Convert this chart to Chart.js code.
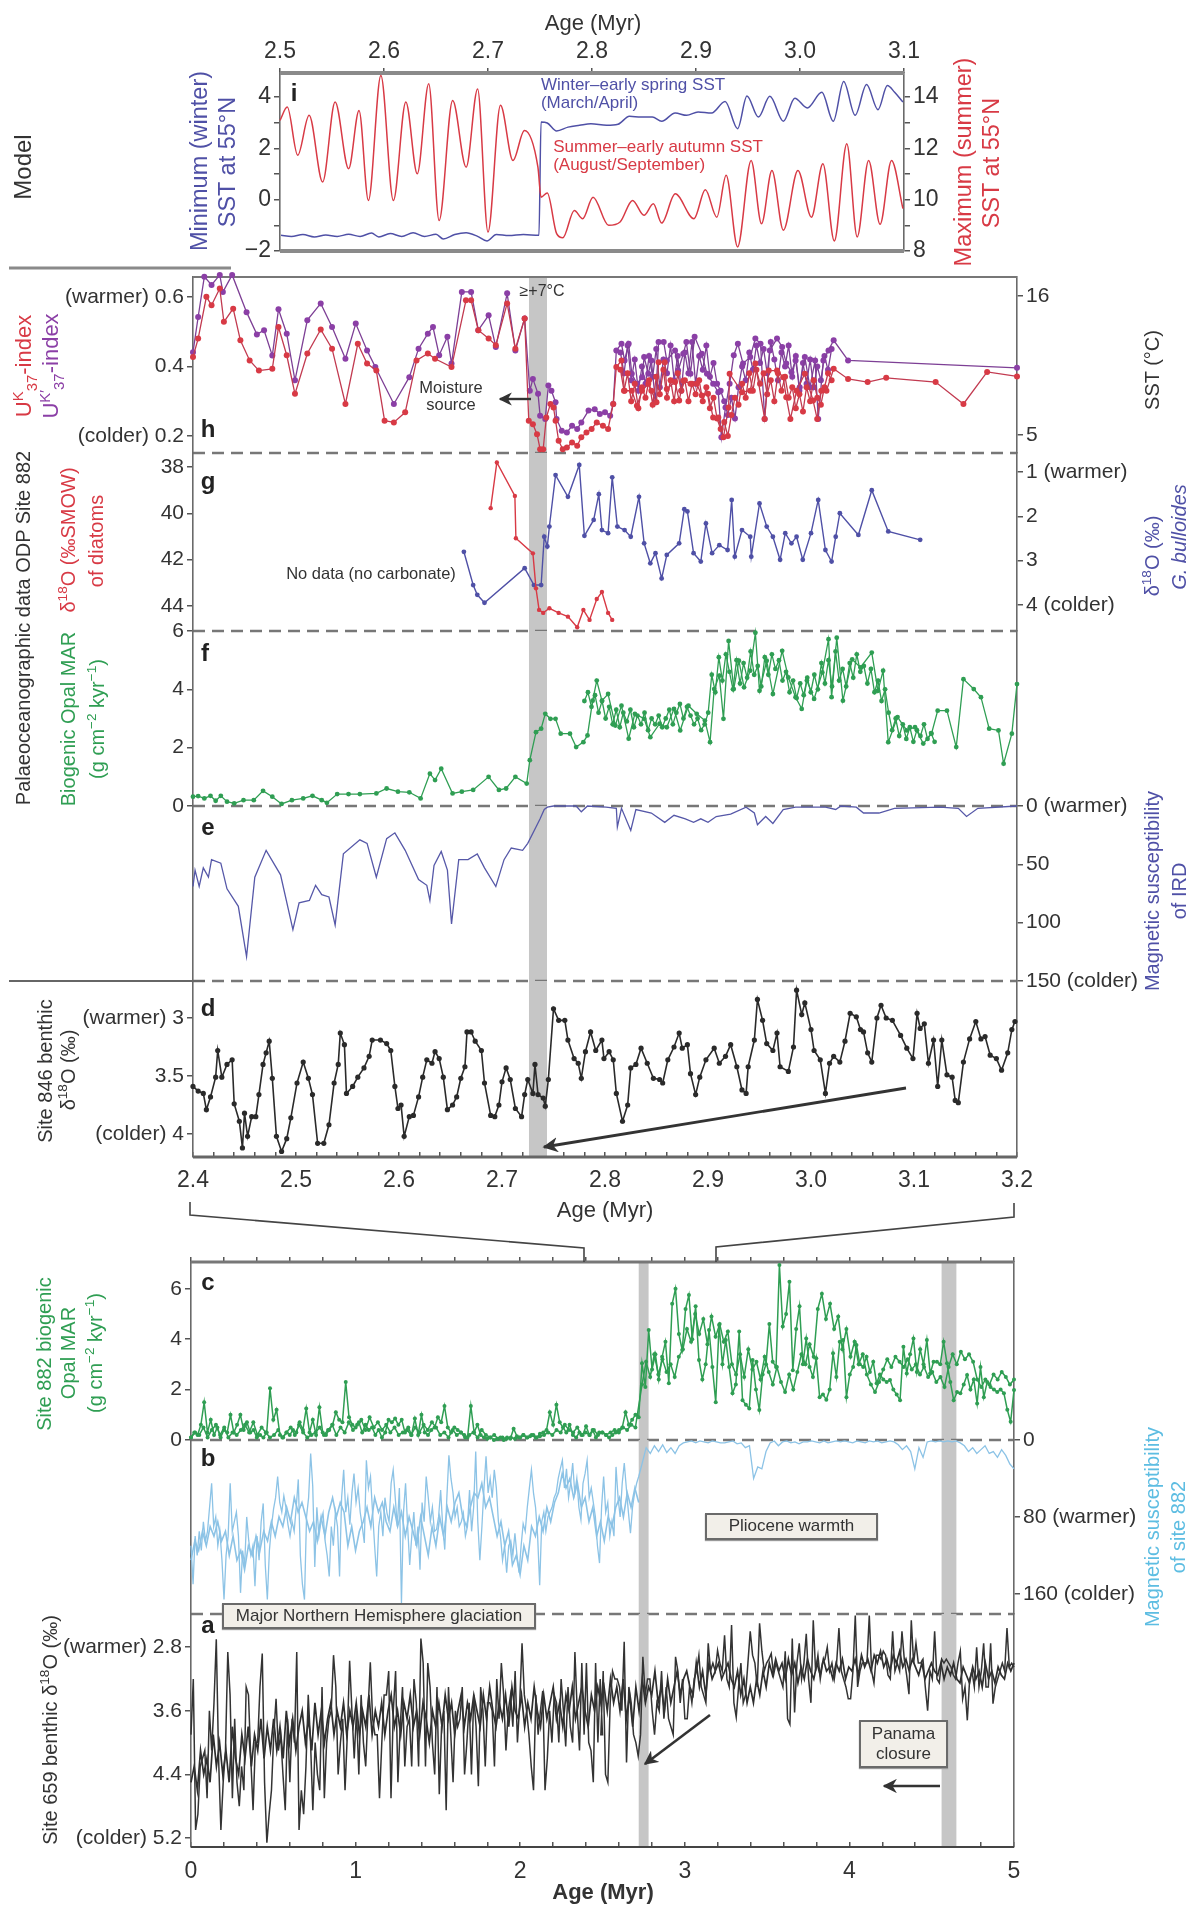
<!DOCTYPE html>
<html>
<head>
<meta charset="utf-8">
<title>Age records</title>
<script src="https://cdn.jsdelivr.net/npm/chart.js@4/dist/chart.umd.js"></script>
<style>
  html, body { margin: 0; padding: 0; background: #fff; }
  #page { position: relative; width: 1186px; height: 1906px; overflow: hidden; font-family: "Liberation Sans", Arial, sans-serif; color: #333; }
  #page canvas { position: absolute; left: 0; }
  #marks { position: absolute; left: 0; top: 0; }
  .note { position: absolute; white-space: nowrap; line-height: 1.05; text-align: center; }
  .box { position: absolute; box-sizing: border-box; background: #f2efe9; border: 2px solid #6a6a6a; box-shadow: 0 1px 1px #999; display: flex; align-items: center; justify-content: center; text-align: center; font-size: 17px; line-height: 1.2; color: #333; }
  sup, sub { font-size: .68em; line-height: 0; }
</style>
</head>
<body>
<div id="page"></div>
<script>
// panel i : model SST
const iSummerAge = [2.5,2.507,2.517,2.528,2.541,2.553,2.566,2.576,2.585,2.597,2.609,2.621,2.632,2.643,2.653,2.666,2.679,2.69,2.7,2.712,2.724,2.735,2.748,2.751,2.757,2.766,2.772,2.783,2.791,2.801,2.816,2.827,2.839,2.85,2.859,2.867,2.88,2.898,2.909,2.92,2.929,2.94,2.953,2.963,2.973,2.984,2.998,3.011,3.022,3.033,3.045,3.055,3.066,3.077,3.088,3.099];
const iSummer = [13.09,13.61,11.73,13.29,10.69,13.81,11.21,13.48,9.97,14.84,9.97,13.81,11.01,14.52,9.19,13.87,11.27,14.32,8.74,13.68,11.53,12.7,11.27,10.1,10.26,8.68,8.52,9.58,9.26,10.1,9,9.13,9.97,9.39,9.84,9.09,10.23,9.26,10.39,9.32,10.95,8.16,11.53,9.06,11.14,8.81,11.14,9.32,11.4,8.39,12.18,8.55,11.53,9.04,11.53,9.65];
const iWinterAge = [2.501,2.511,2.522,2.533,2.544,2.555,2.566,2.577,2.588,2.595,2.606,2.617,2.628,2.639,2.65,2.657,2.668,2.679,2.69,2.699,2.708,2.72,2.734,2.749,2.751,2.757,2.766,2.777,2.788,2.799,2.814,2.825,2.836,2.847,2.858,2.867,2.88,2.891,2.902,2.915,2.928,2.94,2.949,2.96,2.971,2.984,2.995,3.007,3.021,3.032,3.042,3.053,3.064,3.075,3.084,3.091,3.099];
const iWinter = [-1.39,-1.43,-1.36,-1.45,-1.38,-1.43,-1.35,-1.43,-1.3,-1.45,-1.32,-1.43,-1.29,-1.43,-1.35,-1.53,-1.36,-1.29,-1.43,-1.61,-1.36,-1.4,-1.36,-1.39,3.03,2.99,2.68,2.83,2.9,2.96,2.9,2.94,3.25,3.22,3.22,3.06,3.38,3.29,3.42,3.38,3.83,2.77,4.04,3.22,4.03,3.06,3.96,3.58,4.19,3.06,4.61,3.29,4.49,3.51,4.45,4.19,3.81];

// panel h : alkenone index
const hPurpleAge = [2.4,2.405,2.411,2.418,2.426,2.429,2.438,2.452,2.462,2.469,2.477,2.483,2.491,2.499,2.511,2.524,2.535,2.548,2.558,2.569,2.577,2.595,2.61,2.619,2.628,2.633,2.639,2.647,2.651,2.661,2.67,2.677,2.687,2.694,2.705,2.713,2.722,2.727,2.73,2.735,2.737,2.742,2.745,2.748,2.752,2.753,2.758,2.763,2.768,2.773,2.777,2.784,2.79,2.795,2.8,2.805,2.808,2.811,2.816,2.819,2.823,2.826,2.831,2.836,2.838,2.842,2.845,2.849,2.852,2.857,2.86,2.868,2.871,2.876,2.879,2.883,2.887,2.894,2.899,2.905,2.91,2.913,2.917,2.921,2.925,2.929,2.934,2.941,2.946,2.951,2.955,2.96,2.967,2.972,2.976,2.981,2.985,2.989,2.994,2.999,3.004,3.007,3.012,3.017,3.022,3.036,3.2];
const hPurple = [.441,.542,.658,.634,.663,.614,.663,.556,.492,.504,.431,.564,.494,.36,.533,.581,.513,.422,.523,.446,.398,.292,.369,.451,.494,.513,.432,.485,.408,.614,.614,.504,.547,.456,.61,.446,.538,.33,.364,.321,.258,.249,.345,.33,.297,.249,.215,.21,.229,.22,.239,.273,.277,.263,.268,.258,.292,.446,.465,.417,.465,.379,.35,.369,.427,.379,.417,.297,.47,.47,.417,.446,.388,.436,.47,.379,.485,.436,.379,.35,.326,.196,.282,.35,.432,.465,.408,.427,.48,.465,.249,.446,.48,.456,.408,.383,.417,.34,.427,.34,.417,.249,.417,.446,.475,.417,.396];
const hPurpleDense = [.44,.38,.46,.36,.42,.33,.4,.35,.43,.37,.45,.34,.42,.38,.46,.36,.43,.33,.44,.38,.47,.35,.43,.39,.46,.37,.41,.35,.33,.3,.26,.31,.25,.34,.4,.36,.44,.39,.46,.41,.45,.38,.47,.42,.36,.44,.4,.46,.37,.43,.33,.41,.35,.42,.34,.4,.36,.43,.39,.45];
const hRedAge = [2.4,2.405,2.413,2.418,2.426,2.43,2.439,2.446,2.455,2.464,2.477,2.483,2.491,2.499,2.511,2.524,2.535,2.548,2.56,2.569,2.578,2.586,2.595,2.606,2.617,2.628,2.635,2.651,2.665,2.67,2.677,2.687,2.694,2.705,2.713,2.722,2.726,2.73,2.734,2.737,2.74,2.743,2.747,2.75,2.752,2.755,2.759,2.763,2.768,2.773,2.777,2.782,2.787,2.792,2.798,2.803,2.808,2.811,2.816,2.819,2.826,2.831,2.836,2.842,2.845,2.85,2.852,2.858,2.86,2.868,2.872,2.876,2.883,2.889,2.894,2.9,2.905,2.91,2.915,2.92,2.921,2.933,2.941,2.946,2.955,2.959,2.967,2.973,2.976,2.98,2.986,2.994,3.002,3.006,3.01,3.015,3.022,3.036,3.055,3.073,3.121,3.148,3.171,3.2];
const hRed = [.427,.48,.6,.576,.624,.528,.566,.475,.417,.388,.393,.513,.432,.321,.437,.506,.451,.292,.465,.408,.388,.244,.239,.268,.417,.437,.422,.398,.59,.59,.504,.48,.461,.581,.451,.538,.244,.234,.205,.162,.162,.253,.292,.282,.244,.186,.162,.167,.181,.172,.196,.21,.22,.239,.229,.22,.292,.398,.417,.33,.33,.287,.33,.35,.33,.297,.412,.412,.335,.355,.302,.359,.35,.35,.316,.321,.253,.253,.196,.282,.379,.326,.33,.408,.249,.388,.388,.369,.311,.249,.33,.379,.302,.249,.33,.33,.393,.364,.355,.367,.355,.292,.384,.371];
const hRedDense = [.39,.33,.38,.3,.35,.28,.34,.31,.36,.29,.37,.32,.39,.31,.36,.3,.38,.33,.36,.3,.35,.32,.36,.3,.34,.28,.31,.25,.22,.24,.2,.26,.31,.29,.35,.31,.38,.33,.39,.35,.38,.32,.36,.3,.38,.33,.37,.31,.34,.28,.32,.27,.34,.3,.36,.31,.29,.34,.38,.36];

// panel g : oxygen isotopes
const gDiatomAge = [2.689,2.695,2.7125,2.7135,2.73,2.733,2.736,2.74,2.746,2.755,2.764,2.773,2.779,2.785,2.792,2.797,2.803,2.807];
const gDiatom = [39.78,37.81,39.25,41.08,41.73,43.24,44.17,44.3,44.1,44.3,44.46,44.92,44.17,44.6,43.7,43.4,44.3,44.6];
const gBulloidesAge = [2.663,2.672,2.676,2.683,2.722,2.731,2.738,2.741,2.744,2.746,2.752,2.764,2.775,2.78,2.789,2.794,2.797,2.803,2.807,2.812,2.819,2.825,2.833,2.838,2.844,2.849,2.855,2.86,2.872,2.877,2.88,2.886,2.893,2.898,2.904,2.911,2.919,2.923,2.926,2.933,2.941,2.942,2.95,2.957,2.963,2.97,2.975,2.981,2.986,2.992,3,3.007,3.014,3.02,3.024,3.028,3.046,3.059,3.075,3.106];
const gBulloides = [2.8,3.55,3.77,3.95,3.17,3.55,3.55,2.46,2.68,2.23,1.07,1.56,.84,2.44,2.08,1.5,2.31,2.38,1.12,2.23,2.31,2.46,1.56,2.61,3.06,2.83,3.4,2.87,2.61,1.84,1.89,2.83,3.02,2.16,2.83,2.65,2.76,1.63,2.91,2.31,2.46,2.91,1.71,2.23,2.46,2.98,2.38,2.61,2.46,2.98,2.38,1.63,2.76,3.02,2.46,1.93,2.42,1.41,2.34,2.53];

// panel f : biogenic opal, 2.4-3.2 Myr
const fAge = [2.4,2.405,2.411,2.417,2.422,2.427,2.433,2.44,2.449,2.459,2.468,2.477,2.486,2.496,2.507,2.516,2.525,2.53,2.54,2.551,2.562,2.578,2.588,2.599,2.61,2.621,2.63,2.635,2.641,2.652,2.661,2.672,2.687,2.697,2.704,2.713,2.724,2.727,2.733,2.738,2.742,2.747,2.752,2.757,2.766,2.772,2.779,2.783,2.788,2.792,2.797,2.803,2.81,2.816,2.823,2.829,2.838,2.844,2.853,2.86,2.867,2.873,2.881,2.889,2.897,2.902,2.906,2.911,2.915,2.92,2.925,2.93,2.935,2.941,2.946,2.95,2.957,2.963,2.972,2.978,2.985,2.991,2.996,3.003,3.011,3.017,3.02,3.025,3.031,3.04,3.048,3.059,3.065,3.07,3.075,3.084,3.093,3.101,3.109,3.117,3.123,3.132,3.141,3.148,3.158,3.165,3.173,3.182,3.187,3.195,3.2];
const fOpal = [.32,.34,.26,.35,.18,.35,.15,.09,.2,.2,.52,.32,.07,.2,.26,.35,.2,.11,.41,.41,.41,.43,.6,.49,.47,.26,1.11,.89,1.28,.43,.49,.55,1,.55,.6,1,.77,1.57,2.53,2.65,3.16,2.99,2.99,2.48,2.48,2.02,2.19,2.42,3.61,4.3,3.61,3.84,2.76,3.44,2.31,3.16,2.99,2.36,2.82,2.7,3.33,2.59,3.44,3.16,2.93,2.19,4.01,4.47,2.99,5.66,4.01,4.98,4.07,4.64,5.94,3.95,4.98,3.84,5.32,4.41,3.73,3.33,4.3,3.67,4.58,5.72,3.73,5.77,3.61,5.03,4.75,5.26,3.95,4.64,2.19,3.05,2.59,2.7,2.14,2.48,3.27,3.27,2.02,4.35,4.01,3.73,2.65,2.59,1.45,2.48,4.18];
const fDense = [3.6,3.9,3.4,3.8,3.2,3.6,3,3.4,2.8,3.3,2.7,3.2,2.9,3.3,2.7,3.1,2.8,3.2,2.6,3,2.8,3.1,2.7,3,3.3,2.8,3.2,3.5,3,3.4,3.1,2.8,3,2.6,2.8,3.2,4.5,3.9,5.1,4.3,5.2,4.6,4,5,4.2,4.9,4.4,5.3,4.5,4.8,4.1,5.1,4.5,5.2,4.7,5,4.3,4.6,3.9,4.3,3.7,4.2,3.8,4.4,3.9,4.5,4,4.9,4.2,5,4.1,5.3,4.3,4.7,4.1,4.9,4.4,5.2,4.6,4.8,4.2,4.7,3.9,4.3,3.6,4,3.2,2.6,3,2.4,2.8,2.3,2.7,2.2,2.6,2.4,2.8,2.3,2.5,2.2];

// panel e : magnetic susceptibility of IRD
const eAge = [2.4,2.402,2.406,2.41,2.415,2.418,2.427,2.433,2.444,2.452,2.46,2.471,2.485,2.497,2.503,2.513,2.519,2.525,2.532,2.538,2.546,2.562,2.569,2.578,2.588,2.596,2.606,2.619,2.627,2.63,2.634,2.641,2.647,2.651,2.658,2.667,2.676,2.683,2.694,2.702,2.709,2.72,2.725,2.733,2.737,2.741,2.744,2.75,2.772,2.777,2.783,2.801,2.811,2.812,2.816,2.825,2.83,2.845,2.858,2.867,2.878,2.886,2.893,2.9,2.908,2.922,2.937,2.945,2.948,2.956,2.963,2.973,2.985,3.014,3.024,3.029,3.044,3.051,3.066,3.081,3.125,3.143,3.151,3.162,3.2];
const eIrd = [69,55,69,53,61,46,49,71,86,129,61,38,59,106,83,81,68,76,78,102,41,29,32,61,28,23,38,63,68,81,51,39,55,101,46,46,41,53,69,46,36,38,32,18,11,3,1,0,0,5,0,1,2,18,2,21,3,6,14,8,11,14,11,14,9,7,1,6,16,9,15,3,1,1,3,0,1,6,6,2,1,2,9,2,0];

// panel d : site 846 benthic
const dAge = [2.4,2.405,2.41,2.413,2.417,2.422,2.424,2.428,2.433,2.438,2.44,2.445,2.448,2.45,2.453,2.457,2.461,2.464,2.468,2.471,2.474,2.477,2.481,2.486,2.491,2.495,2.501,2.507,2.512,2.516,2.521,2.527,2.532,2.537,2.541,2.543,2.547,2.549,2.555,2.56,2.566,2.571,2.574,2.582,2.588,2.592,2.596,2.599,2.602,2.605,2.61,2.614,2.619,2.623,2.627,2.632,2.635,2.639,2.643,2.647,2.652,2.656,2.66,2.664,2.666,2.67,2.674,2.68,2.683,2.689,2.693,2.697,2.7,2.704,2.708,2.713,2.719,2.722,2.725,2.73,2.732,2.735,2.74,2.742,2.745,2.75,2.755,2.761,2.764,2.77,2.774,2.777,2.781,2.786,2.791,2.797,2.799,2.804,2.808,2.811,2.817,2.822,2.825,2.83,2.835,2.841,2.847,2.853,2.856,2.861,2.867,2.872,2.875,2.88,2.883,2.888,2.892,2.898,2.906,2.911,2.917,2.922,2.928,2.933,2.937,2.939,2.945,2.948,2.953,2.957,2.963,2.967,2.97,2.978,2.983,2.986,2.991,2.994,3,3.003,3.009,3.014,3.018,3.022,3.028,3.033,3.038,3.044,3.048,3.051,3.055,3.059,3.064,3.068,3.073,3.079,3.087,3.093,3.099,3.103,3.106,3.11,3.114,3.119,3.123,3.127,3.132,3.137,3.14,3.143,3.148,3.154,3.16,3.165,3.169,3.174,3.18,3.185,3.191,3.195,3.198];
const dBenthic = [3.59,3.63,3.65,3.79,3.68,3.51,3.28,3.51,3.4,3.36,3.74,3.89,4.12,3.82,4.02,3.85,3.85,3.66,3.4,3.3,3.2,3.52,4.02,4.15,4.04,3.86,3.56,3.38,3.52,3.66,4.08,4.08,3.92,3.56,3.4,3.13,3.23,3.65,3.59,3.51,3.43,3.33,3.19,3.19,3.22,3.28,3.59,3.78,3.75,4.02,3.85,3.84,3.68,3.51,3.36,3.39,3.29,3.35,3.51,3.79,3.75,3.68,3.52,3.42,3.12,3.12,3.2,3.28,3.56,3.84,3.85,3.75,3.55,3.43,3.53,3.78,3.85,3.66,3.53,3.65,3.4,3.66,3.69,3.76,3.53,2.92,3.02,3.02,3.19,3.35,3.39,3.52,3.29,3.12,3.28,3.19,3.35,3.29,3.36,3.65,3.89,3.75,3.43,3.4,3.26,3.39,3.52,3.53,3.56,3.36,3.25,3.13,3.26,3.23,3.48,3.66,3.51,3.36,3.26,3.39,3.33,3.23,3.42,3.62,3.65,3.42,3.19,2.84,3.02,3.22,3.28,3.13,3.42,3.46,3.25,2.76,2.97,2.87,3.1,3.28,3.36,3.65,3.39,3.33,3.38,3.2,2.96,2.99,3.1,3.12,3.3,3.38,3,2.89,3,3.02,3.15,3.26,3.35,2.96,3.09,3.05,3.39,3.19,3.59,3.19,3.49,3.51,3.71,3.73,3.38,3.18,3.03,3.18,3.16,3.32,3.35,3.45,3.3,3.1,3.03];

// panel c : site 882 opal, 0-5 Myr (c1 0-2.72, c2 2.74-5, even sampling; core lists fill the dense band)
const cOpal1 = [.1,.3,.2,.6,1.5,.3,.8,.2,.5,.1,.4,.3,1,.3,.6,1,.4,.7,.3,.4,.1,.2,.1,.3,2.05,.8,1.2,.2,.1,.3,.2,.4,.3,.7,.4,1.25,.3,.8,.2,1.3,.3,.2,.4,.6,1.1,.8,.7,2.3,.9,.6,.5,.7,.3,.6,.4,.5,.2,.4,.1,.3,.8,.7,.85,.6,.8,.3,.5,.2,.85,.2,1,.3,.2,.4,.5,.9,.7,1.35,.5,.3,.5,.4,.3,.2,.1,1.35,.3,.6,.2,.1,.05,.1,0,.05,.1,0,.1,.05,.45,.15,.1,.2,.1,.15,.2,.1,.25,.3,.4,1.1,.6,1.4,.7,.5,.3,.6,.2,.1,.3,.2,.55,.2,.4,.1,.3,.3,.2,.1,.2,.3,.4,.5,1.1,.6,.8,1,.9];
const cOpal2 = [3.04,2.1,4.36,2.8,3.4,2.4,3.3,3.9,2.25,5.4,6,4.2,3.57,5.2,5.75,4,5.3,3.17,2.4,3,4.36,2.9,1.5,4.56,3,3.97,2.9,1.85,2.2,4.3,1.58,1.4,1.25,3.17,2,1.19,2.6,3,4.6,3.1,2.9,6.94,4.5,5,6.28,2.77,4.4,5.3,3,4.03,2.9,2.5,3.24,1.7,1.8,1.6,2,3.44,2.5,3.9,3.97,1.7,2.6,2.9,3.77,3,2.9,3.3,2.7,3.1,2.25,2.6,2.4,2.3,2.38,2,1.8,1.58,3.7,2.64,3.4,4.03,2.7,3.6,3,3.97,2.64,3.1,3.1,3,3.9,3.04,2.3,1.58,1.9,1.85,2.2,2.58,2,2.4,1.45,2.9,1.7,2.3,2.1,2,1.9,2,1.85,1.2,.72,1.98];
const cCore1 = [.1,.3,.2,.5,.1,.4,.6,.2,.5,.1,.3,.2,.4,.6,.3,.7,.2,.5,.3,.1,.2,.4,.1,.3,.5,.2,.6,.3,.1,.2,.3,.5,.2,.4,.6,.2,.5,.3,.7,.4,.6,.8,.4,.9,.5,.7,.4,.6,.3,.5,.2,.3,.4,.2,.5,.3,.6,.4,.7,.5,.2,.3,.1,.4,.2,.3,.1,.2,.3,.1,.4,.2,.1,.2,.05,.1,.05,.1,.05,.1,.2,.1,.2,.1,.15,.2,.3,.2,.4,.3,.6,.4,.3,.5,.2,.3,.2,.4,.2,.3,.2,.3,.4,.3,.5,.4,.6,.5];
const cCore2 = [2.2,3.1,2.5,3.4,2.6,3.2,2.7,3,2.5,3.3,3.6,4.4,3.9,5,4.2,4.8,3.8,4.9,4.1,4.6,3.9,4.3,3,2.6,3.4,2.5,3.6,2.8,3.1,2.4,3.3,2.7,2.2,2.9,2.3,1.9,2.6,2,2.7,3.4,3,3.8,3.3,5.2,5.8,4.8,5.4,4.4,4.9,3.6,4.4,3.3,3.9,3,3.4,2.6,2.2,1.9,2.3,2.8,3.2,2.9,3.3,3.1,2.9,3.2,2.8,3,2.6,2.9,2.5,2.7,2.3,2.5,2.1,2.9,3.4,3,3.5,3.2,3.4,3.1,2.4,2.1,2.4,2.2,2.6,2.4,2.7,2.5,2.2,2.4];

// panel b : magnetic susceptibility of site 882 (b1 0-2.72, b2 2.74-5)
const bSusc1 = [110,150,100,120,95,115,85,105,95,70,45,90,80,110,95,125,166,120,100,45,95,85,75,100,159,115,130,80,105,120,110,152,100,125,85,66,130,166,115,90,72,60,38,65,75,58,70,88,100,85,95,70,41,120,150,166,80,60,14,48,132,70,100,85,76,105,120,142,90,110,75,90,142,60,31,75,60,88,55,35,65,50,75,90,107,21,50,38,75,110,142,90,75,100,60,76,85,45,31,60,90,50,170,75,45,90,130,100,75,110,90,135,65,85,38,60,85,70,95,93,80,52,90,114,60,16,40,55,80,70,90,85,76,100,90,52,95,70,12,85,125,90,50,17,55,40,60,31,50,85,100,125,110,138,110,105,120,97,120,138,110,87,95,70,50,31,55,70,100,151,85,75,95,80,75,70,60,55,40,30,21,50,30,60,45,24,55,40,70,83,45,35,21,60,50,65,80,110,128,70,38,75,65,100,85,100,28,60,80,45,24,50,75,97,70,55,45,38];
const bSusc2 = [25,8,14,6,12,5,13,8,14,6,3,2,1,3,1,2,3,1,2,3,3,2,1,4,3,8,6,40,28,30,12,3,1,6,2,1,3,2,4,2,2,1,2,3,1,3,2,1,2,1,2,3,1,2,3,1,2,1,3,2,1,2,5,10,6,12,30,8,18,2,1,2,1,2,1,2,1,3,6,12,8,14,10,6,14,12,18,10,16,25,30];
const bCore = [125,105,115,95,110,90,100,85,105,95,120,100,125,115,135,110,120,100,115,95,105,85,100,80,90,70,85,60,75,65,80,95,85,105,80,100,75,60,80,65,75,110,90,115,95,85,70,90,60,75,65,85,95,70,90,75,100,80,95,110,80,100,120,90,110,80,100,70,85,65,55,80,90,70,55,60,45,70,60,80,100,85,110,95,130,120,140,110,125,90,100,80,95,70,85,65,55,35,50,40,60,45,70,60,85,70,100,85,105,80,90,70,60,80,55,70,50,65];

// panel a : site 659 benthic (a1 0-2.5, a2 2.49-5; core list 0-5 fills the dense band)
const aBenthic1 = [3.9,3.2,5.1,4.9,4.3,4.2,4.1,4.7,3.6,4.1,3.5,2.7,4.2,5.1,4.5,4.1,2.86,3.4,4.7,3.7,4.5,4.8,4.3,4.6,3.3,3.4,4.2,4.85,4,4,3.3,2.88,4.5,5.26,4.9,4.6,3.9,3.45,4.1,3.9,4.4,4.85,3.7,4.5,3.7,4,2.86,5.1,4.6,4.9,4.3,3.4,4,4.85,4,4.4,4.6,3.3,4.7,4,3.7,3.6,2.9,3.3,4.4,4,3.7,4.6,3.9,2.97,3.6,4.2,3.6,4.4,3.4,4,4.3,3.6,2.99,3.7,3.9,3.9,4.7,4,3.4,3.4,3.1,4.7,3.6,3.1,4.5,3.8,3.3,4.3,3.8,3.7,4.3,3.2,3.5,4.3,2.69,3,4.3,3,3.3,4,4.4,3.3,4.65,3.8,3.6,4.85,3.3,3.9,4.5,3.6,3.8,3.7,3.3,4.4,4,3.5,4.4,3.4,3.8,4.55,3.3,3.6,4.3,3.5,3.5,3.6,4.3,3.2,3.7,3,3.4,4.1,3.6,3.4,3.8,3.1,4,3.5,2.75,3.4,3.6,3.9,4.3,4.6,3.4,3.9,3.6,3.35,4.6,4.2,3.6,4,3.4,3.5,4,3.2,3.6,4.05,3.3,3.8,4,2.86,3.6,4.1,3,3.9,3,4,4.1,4.5,3,4,3.2,3.9];
const aBenthic2 = [3.9,3.1,4.4,4.5,3.5,3.1,3.2,3.2,3.3,3.6,2.73,4.25,3.3,3.5,3.9,4,4.17,3.9,2.92,3.4,3.2,3.2,3.6,3.9,3.5,3.6,3.1,3.7,3.3,3.7,3.8,3.9,2.92,3.1,3.5,3.2,3.7,3.7,3.3,3.5,3.2,3.1,2.9,3.3,3.4,3.5,2.75,3.1,3,3.1,2.84,3,3.1,2.65,3.2,3.3,2.52,3.5,3.68,3.3,3,3.5,3.4,3,2.6,2.9,3,3.3,2.5,2.85,3.1,3,2.95,2.88,3.15,3,3.1,3.2,3.3,2.85,3.7,3.77,2.69,3.62,3,2.75,3.2,3,2.63,3.2,3.5,2.46,3.1,2.9,3.2,3,2.95,2.8,3.1,3,3.2,3,2.56,3.1,3.2,3.3,3.45,3.45,3.1,2.4,3.3,3.1,3,3,3,2.4,3.1,3.25,2.9,2.9,2.95,2.85,2.9,3.15,3.2,2.6,3.1,3,3.1,2.6,2.95,3.15,3.39,2.46,3,2.75,3,3,2.95,3.3,3.6,3.1,3.2,2.6,3.2,3.25,2.95,3,2.95,3,3.05,3.15,3.2,3,2.85,3.45,3.3,3.72,3.2,3.1,3.3,2.8,3.3,3.1,2.75,3.3,3.3,2.75,3.51,3.3,3.2,3.1,3,3.1,2.56,3.05,3,3.05];
const aCore = [4.5,4.3,4.6,4.1,4.4,4.2,4.5,3.9,4.3,4,4.4,4.1,4.5,3.8,4.2,4.4,3.9,4.2,3.8,4.3,3.9,4.1,3.7,4.2,3.8,4.1,3.7,4.1,3.8,4.2,3.6,4,3.7,4.1,3.8,3.6,4,3.7,4.1,3.5,3.9,3.6,4,3.7,3.5,3.9,3.6,3.8,3.5,3.9,3.6,3.8,3.5,3.9,3.6,3.8,3.4,3.9,3.6,3.8,3.5,3.9,3.6,3.4,3.8,3.6,3.9,3.5,3.7,3.4,3.8,3.6,3.9,3.5,3.7,4,3.6,3.8,3.5,3.8,3.4,3.7,3.5,3.9,3.6,3.4,3.8,3.5,3.7,3.4,3.6,3.8,3.4,3.7,3.3,3.6,3.8,3.5,3.7,3.4,3.8,3.3,3.6,3.7,3.4,3.8,3.5,3.7,3.3,3.6,3.8,3.4,3.7,3.5,3.3,3.7,3.5,3.8,3.4,3.6,3.3,3.7,3.5,3.3,3.6,3.8,3.4,3.6,3.3,3.5,3.3,3.6,3.2,3.5,3.3,3.6,3.2,3.7,3.4,3.8,3.3,3.6,3.2,3.5,3.3,3.4,3.1,3.5,3.3,3.6,3.2,3.5,3.3,3.1,3.4,3.2,3.1,3.3,3.4,3,3.3,3.1,3.4,3,3.2,3.1,3,3.2,3.1,3,3.2,3.3,3.1,3.4,3.2,3.5,3.3,3.5,3.2,3.4,3.1,3.3,3,3.15,2.95,3.1,3,3.2,2.95,3.15,3,3.25,3.05,3.2,2.95,3.1,3.2,3,3.15,2.95,3.1,3.05,3.2,3,3.1,2.95,3.2,3.05,3.1,2.95,3.15,2.9,3.05,2.95,3.1,2.9,3,2.85,3.05,2.95,3.1,2.9,3,2.85,3.05,2.95,3.1,2.95,3.05,3.15,3,3.2,3.1,3,3.1,3.15,3,3.2,3.05,3.15,3,3.2,3.25,3.05,3.15,3.25,3.05,3.2,3.1,3.3,3,3.2,3.1,3.25,3.05,3.15,3.2,3,3.1,3];

// axis ticks
const iTopTicks = [2.5,2.6,2.7,2.8,2.9,3.0,3.1];
const iTopLabels = ['2.5','2.6','2.7','2.8','2.9','3.0','3.1'];
const iLeftTicks = [-2,-1,0,1,2,3,4];
const iLeftLabels = ['\u22122','','0','','2','','4'];
const iRightTicks = [8,9,10,11,12,13,14];
const iRightLabels = ['8','','10','','12','','14'];
const hLeftTicks = [.2,.4,.6];
const hLeftLabels = ['(colder) 0.2','0.4','(warmer) 0.6'];
const hRightTicks = [5,16];
const hRightLabels = ['5','16'];
const gLeftTicks = [38,40,42,44];
const gLeftLabels = ['38','40','42','44'];
const gRightTicks = [1,2,3,4];
const gRightLabels = ['1 (warmer)','2','3','4 (colder)'];
const fLeftTicks = [0,2,4,6];
const fLeftLabels = ['0','2','4','6'];
const eRightTicks = [0,50,100,150];
const eRightLabels = ['0 (warmer)','50','100','150 (colder)'];
const dLeftTicks = [3,3.5,4];
const dLeftLabels = ['(warmer) 3','3.5','(colder) 4'];
const dAgeTicks = [2.4,2.42,2.44,2.46,2.48,2.5,2.52,2.54,2.56,2.58,2.6,2.62,2.64,2.66,2.68,2.7,2.72,2.74,2.76,2.78,2.8,2.82,2.84,2.86,2.88,2.9,2.92,2.94,2.96,2.98,3,3.02,3.04,3.06,3.08,3.1,3.12,3.14,3.16,3.18,3.2];
const dAgeLabels = dAgeTicks.map((t, i) => i % 5 === 0 ? t.toFixed(1) : '');
const cLeftTicks = [0,2,4,6];
const cLeftLabels = ['0','2','4','6'];
const bRightTicks = [0,80,160];
const bRightLabels = ['0','80 (warmer)','160 (colder)'];
const aLeftTicks = [2.8,3.6,4.4,5.2];
const aLeftLabels = ['(warmer) 2.8','3.6','4.4','(colder) 5.2'];
const longAgeTicks = [0,.2,.4,.6,.8,1,1.2,1.4,1.6,1.8,2,2.2,2.4,2.6,2.8,3,3.2,3.4,3.6,3.8,4,4.2,4.4,4.6,4.8,5];
const longAgeLabels = longAgeTicks.map((t, i) => i % 5 === 0 ? String(t) : '');

const RED = '#d83a45', PURPLE = '#8b3fa6', INDIGO = '#4f50a6', GREEN = '#2f9e53', SKY = '#8cc3e6', INK = '#333';
const PAGE_W = 1186, PAD = 60;
const page = document.getElementById('page');

Chart.defaults.font.family = '"Liberation Sans", Arial, sans-serif';
Chart.defaults.font.size = 21;
Chart.defaults.color = INK;
Chart.defaults.animation = false;

// grey bands plus solid or dashed rules along the panel edges
const panelDecor = {
  id: 'panelDecor',
  beforeDatasetsDraw(chart, args, opts) {
    const { ctx, chartArea: a, scales } = chart;
    ctx.save();
    (opts.bands || []).forEach(b => {
      const x0 = scales.x.getPixelForValue(b[0]), x1 = scales.x.getPixelForValue(b[1]);
      ctx.fillStyle = '#c6c6c6';
      ctx.fillRect(x0, a.top, x1 - x0, a.bottom - a.top);
    });
    [['top', a.top], ['bottom', a.bottom]].forEach(([k, y]) => {
      const r = opts[k];
      if (!r) return;
      ctx.strokeStyle = r.color;
      ctx.lineWidth = r.width;
      ctx.setLineDash(r.dash || []);
      ctx.beginPath();
      ctx.moveTo(a.left, y);
      ctx.lineTo(a.right, y);
      ctx.stroke();
    });
    ctx.restore();
  }
};

function yAxis(pos, side, size, min, max, reverse, ticks, labels) {
  const has = !!ticks;
  return {
    type: 'linear', position: pos, min, max, reverse, bounds: 'data',
    afterFit: s => { s.width = side; },
    afterBuildTicks: s => { if (has) s.ticks = ticks.map(value => ({ value })); },
    grid: { display: has, drawOnChartArea: false, drawTicks: has, tickLength: 6, color: '#555', lineWidth: 1.5 },
    border: { display: true, color: '#6a6a6a', width: 1.6 },
    ticks: { display: has, autoSkip: false, padding: 3, maxRotation: 0, minRotation: 0, font: { size }, callback: (v, i) => labels ? labels[i] : '' }
  };
}

function line(xs, ys, axis, color, radius, width, extra) {
  return Object.assign({
    data: xs.map((x, i) => ({ x, y: ys[i] })),
    yAxisID: axis, borderColor: color, backgroundColor: color,
    pointBackgroundColor: color, pointBorderWidth: 0,
    pointRadius: radius, borderWidth: width, clip: false
  }, extra || {});
}

function panel(c) {
  const h = c.bottom - c.top;
  const cv = document.createElement('canvas');
  cv.width = PAGE_W;
  cv.height = h + PAD * 2;
  cv.style.top = (c.top - PAD) + 'px';
  page.appendChild(cv);
  const ax = c.axis;
  const size = c.tickSize || 21;
  new Chart(cv, {
    type: 'line',
    data: { datasets: c.datasets },
    options: {
      responsive: false,
      layout: { padding: { top: ax && ax.pos === 'top' ? 0 : PAD, bottom: ax && ax.pos === 'bottom' ? 0 : PAD, left: 0, right: 0 } },
      scales: {
        x: {
          type: 'linear', min: c.xMin, max: c.xMax, display: !!ax, position: ax ? ax.pos : 'bottom',
          afterFit: s => { if (ax) s.height = PAD; },
          afterBuildTicks: s => { if (ax) s.ticks = ax.ticks.map(value => ({ value })); },
          grid: { drawOnChartArea: false, tickLength: ax ? ax.len : 5, color: '#555', lineWidth: 1.5 },
          border: { display: false },
          ticks: { autoSkip: false, maxRotation: 0, minRotation: 0, padding: ax ? ax.pad : 3, font: { size: 23 }, callback: (v, i) => ax ? ax.labels[i] : '' }
        },
        yL: yAxis('left', c.left, size, c.yL[0], c.yL[1], c.yL[2], c.yL[3], c.yL[4]),
        yR: yAxis('right', PAGE_W - c.right, size, c.yR[0], c.yR[1], c.yR[2], c.yR[3], c.yR[4])
      },
      plugins: { legend: { display: false }, tooltip: { enabled: false }, panelDecor: c.decor }
    },
    plugins: [panelDecor]
  });
}

const dash = { color: '#777', width: 2.5, dash: [12, 7] };
const mainBand = [[2.7262, 2.7437]];
const longBands = [[2.72, 2.78], [4.56, 4.65]];
const main = { left: 193, right: 1017, xMin: 2.4, xMax: 3.2 };
const long = { left: 191, right: 1014, xMin: 0, xMax: 5 };
const MONO = { cubicInterpolationMode: 'monotone' };
const gridAges = (vals, from, to) => vals.map((v, i) => from + (to - from) * i / (vals.length - 1));

panel({ top: 73, bottom: 251, left: 280, right: 904, xMin: 2.5, xMax: 3.1, tickSize: 23,
  axis: { pos: 'top', ticks: iTopTicks, labels: iTopLabels, len: 5, pad: 3 },
  yL: [-2, 4.94, false, iLeftTicks, iLeftLabels], yR: [8, 14.94, false, iRightTicks, iRightLabels],
  decor: { top: { color: '#8a8a8a', width: 4 }, bottom: { color: '#8a8a8a', width: 4 } },
  datasets: [line(iSummerAge, iSummer, 'yR', RED, 0, 1.5, MONO), line(iWinterAge, iWinter, 'yL', INDIGO, 0, 1.5, MONO)] });

panel({ ...main, top: 277, bottom: 453,
  yL: [.151, .657, false, hLeftTicks, hLeftLabels], yR: [3.58, 17.5, false, hRightTicks, hRightLabels],
  decor: { bands: mainBand, top: { color: '#777', width: 2 }, bottom: dash },
  datasets: [
    line(hRedAge, hRed, 'yL', '#c23a50', 3, 1.3, { pointBackgroundColor: RED }),
    line(gridAges(hRedDense, 2.815, 3.02), hRedDense, 'yL', '#c23a50', 3, 1.3, { pointBackgroundColor: RED }),
    line(hPurpleAge, hPurple, 'yL', '#7d3f95', 3, 1.3, { pointBackgroundColor: PURPLE }),
    line(gridAges(hPurpleDense, 2.815, 3.02), hPurpleDense, 'yL', '#7d3f95', 3, 1.3, { pointBackgroundColor: PURPLE })
  ] });

panel({ ...main, top: 453, bottom: 631,
  yL: [37.4, 45.08, true, gLeftTicks, gLeftLabels], yR: [.571, 4.587, true, gRightTicks, gRightLabels],
  decor: { bands: mainBand, bottom: dash },
  datasets: [line(gDiatomAge, gDiatom, 'yL', RED, 2.2, 1.4), line(gBulloidesAge, gBulloides, 'yR', INDIGO, 2.4, 1.4)] });

panel({ ...main, top: 631, bottom: 806,
  yL: [0, 6, false, fLeftTicks, fLeftLabels], yR: [0, 6, false],
  decor: { bands: mainBand, bottom: dash },
  datasets: [line(fAge, fOpal, 'yL', GREEN, 2.4, 1.3), line(gridAges(fDense, 2.78, 3.12), fDense, 'yL', GREEN, 2.4, 1.3)] });

panel({ ...main, top: 806, bottom: 981,
  yL: [0, 150, true], yR: [0, 150, true, eRightTicks, eRightLabels],
  decor: { bands: mainBand, bottom: dash },
  datasets: [line(eAge, eIrd, 'yR', '#5658a8', 0, 1.3)] });

panel({ ...main, top: 981, bottom: 1157,
  axis: { pos: 'bottom', ticks: dAgeTicks, labels: dAgeLabels, len: -5, pad: 15 },
  yL: [2.681, 4.198, true, dLeftTicks, dLeftLabels], yR: [2.681, 4.198, true],
  decor: { bands: mainBand, bottom: { color: '#666', width: 3 } },
  datasets: [line(dAge, dBenthic, 'yL', '#2a2a2a', 2.6, 1.6)] });

panel({ ...long, top: 1262, bottom: 1440,
  axis: { pos: 'top', ticks: longAgeTicks, labels: longAgeTicks.map(() => ''), len: 5, pad: 0 },
  yL: [0, 7.06, false, cLeftTicks, cLeftLabels], yR: [0, 7.06, false],
  decor: { bands: longBands, top: { color: '#777', width: 3 }, bottom: dash },
  datasets: [
    line(gridAges(cOpal1, 0, 2.72).concat(gridAges(cOpal2, 2.74, 5)), cOpal1.concat(cOpal2), 'yL', GREEN, 2, 1.5),
    line(gridAges(cCore1, 0, 2.7).concat(gridAges(cCore2, 2.74, 5)), cCore1.concat(cCore2), 'yL', GREEN, 2, 1.5)
  ] });

panel({ ...long, top: 1440, bottom: 1614,
  yL: [0, 181, true], yR: [0, 181, true, bRightTicks, bRightLabels],
  decor: { bands: longBands, bottom: dash },
  datasets: [
    line(gridAges(bSusc1, 0, 2.72).concat(gridAges(bSusc2, 2.74, 5)), bSusc1.concat(bSusc2), 'yR', SKY, 0, 1.3),
    line(gridAges(bCore, 0, 2.72), bCore, 'yR', SKY, 0, 1.6)
  ] });

panel({ ...long, top: 1614, bottom: 1847,
  axis: { pos: 'bottom', ticks: longAgeTicks, labels: longAgeLabels, len: -5, pad: 16 },
  yL: [2.382, 5.314, true, aLeftTicks, aLeftLabels], yR: [2.382, 5.314, true],
  decor: { bands: longBands, bottom: { color: '#444', width: 2 } },
  datasets: [
    line(gridAges(aBenthic1, 0, 2.5).concat(gridAges(aBenthic2, 2.49, 5)), aBenthic1.concat(aBenthic2), 'yL', '#333', 0, 1.5),
    line(gridAges(aCore, 0, 5), aCore, 'yL', '#2e2e2e', 0, 1.7)
  ] });

// rules, connectors and arrows
const NS = 'http://www.w3.org/2000/svg';
const marks = document.createElementNS(NS, 'svg');
marks.setAttribute('id', 'marks');
marks.setAttribute('width', PAGE_W);
marks.setAttribute('height', 1906);
marks.innerHTML = `
  <defs><marker id="head" viewBox="0 0 10 10" refX="9" refY="5" markerWidth="5.5" markerHeight="5.5" orient="auto"><path d="M0 0L10 5L0 10L3 5Z" fill="#333"/></marker></defs>
  <path d="M9 268H231" stroke="#8a8a8a" stroke-width="3" fill="none"/>
  <path d="M9 981H205" stroke="#666" stroke-width="2" fill="none"/>
  <path d="M190 1202V1215L584 1248V1262" stroke="#444" stroke-width="1.6" fill="none"/>
  <path d="M1014 1203V1217L716 1247V1262" stroke="#444" stroke-width="1.6" fill="none"/>
  <path d="M906 1088L544 1147" stroke="#333" stroke-width="2.8" fill="none" marker-end="url(#head)"/>
  <path d="M710 1715L645 1764" stroke="#333" stroke-width="2.6" fill="none" marker-end="url(#head)"/>
  <path d="M940 1786H884" stroke="#333" stroke-width="2.6" fill="none" marker-end="url(#head)"/>
  <path d="M531 399H500" stroke="#333" stroke-width="2.4" fill="none" marker-end="url(#head)"/>`;
page.appendChild(marks);

// text: html, centre x, centre y, rotation, size, colour, extra css
const notes = [
  ['Age (Myr)', 593, 23, 0, 22, INK],
  ['Model', 23, 167, -90, 24, INK],
  ['Minimum (winter)', 199, 161, -90, 23.5, INDIGO],
  ['SST at 55°N', 227, 162, -90, 23.5, INDIGO],
  ['Maximum (summer)', 963, 162, -90, 23.5, RED],
  ['SST at 55°N', 991, 163, -90, 23.5, RED],
  ['U<sup>K</sup><sub>37</sub>-index', 24, 366, -90, 22, RED],
  ['U<sup>K′</sup><sub>37</sub>-index', 51, 366, -90, 22, PURPLE],
  ['Palaeoceanographic data ODP Site 882', 23, 628, -90, 20, INK],
  ['δ<sup>18</sup>O (‰SMOW)', 68, 540, -90, 20, RED],
  ['of diatoms', 96, 541, -90, 20, RED],
  ['Biogenic Opal MAR', 68, 719, -90, 20, GREEN],
  ['(g cm<sup>−2</sup> kyr<sup>−1</sup>)', 97, 719, -90, 20, GREEN],
  ['SST (°C)', 1152, 370, -90, 20, INK],
  ['δ<sup>18</sup>O (‰)', 1152, 556, -90, 20, INDIGO],
  ['<i>G. bulloides</i>', 1179, 537, -90, 20, INDIGO],
  ['Magnetic susceptibility', 1152, 891, -90, 20, INDIGO],
  ['of IRD', 1179, 891, -90, 20, INDIGO],
  ['Site 846 benthic', 45, 1071, -90, 20, INK],
  ['δ<sup>18</sup>O (‰)', 68, 1070, -90, 20, INK],
  ['Age (Myr)', 605, 1210, 0, 22, INK],
  ['Site 882 biogenic', 44, 1354, -90, 20, GREEN],
  ['Opal MAR', 68, 1353, -90, 20, GREEN],
  ['(g cm<sup>−2</sup> kyr<sup>−1</sup>)', 95, 1353, -90, 20, GREEN],
  ['Magnetic susceptibility', 1152, 1527, -90, 20, '#5dbde2'],
  ['of site 882', 1178, 1527, -90, 20, '#5dbde2'],
  ['Site 659 benthic δ<sup>18</sup>O (‰)', 50, 1730, -90, 20, INK],
  ['Age (Myr)', 603, 1892, 0, 22, INK, 'font-weight:bold'],
  ['≥+7°C', 542, 291, 0, 16, INK],
  ['Moisture<br>source', 451, 396, 0, 16.5, INK],
  ['No data (no carbonate)', 371, 574, 0, 16.5, INK],
  ['Winter–early spring SST<br>(March/April)', 633, 94, 0, 17, INDIGO, 'text-align:left'],
  ['Summer–early autumn SST<br>(August/September)', 658, 156, 0, 17, RED, 'text-align:left'],
  ['i', 294, 93, 0, 24, '#222', 'font-weight:bold'],
  ['h', 208, 429, 0, 24, '#222', 'font-weight:bold'],
  ['g', 208, 481, 0, 24, '#222', 'font-weight:bold'],
  ['f', 205, 653, 0, 24, '#222', 'font-weight:bold'],
  ['e', 208, 827, 0, 24, '#222', 'font-weight:bold'],
  ['d', 208, 1008, 0, 24, '#222', 'font-weight:bold'],
  ['c', 208, 1282, 0, 24, '#222', 'font-weight:bold'],
  ['b', 208, 1458, 0, 24, '#222', 'font-weight:bold'],
  ['a', 208, 1625, 0, 24, '#222', 'font-weight:bold']
];
notes.forEach(([html, x, y, rot, size, color, css]) => {
  const el = document.createElement('div');
  el.className = 'note';
  el.innerHTML = html;
  el.style.cssText = `left:${x}px;top:${y}px;font-size:${size}px;color:${color};transform:translate(-50%,-50%) rotate(${rot}deg);${css || ''}`;
  page.appendChild(el);
});

const boxes = [
  ['Major Northern Hemisphere glaciation', 222, 1603, 314, 26],
  ['Pliocene warmth', 705, 1513, 173, 27],
  ['Panama<br>closure', 859, 1720, 89, 48]
];
boxes.forEach(([html, x, y, w, h]) => {
  const el = document.createElement('div');
  el.className = 'box';
  el.innerHTML = html;
  el.style.cssText = `left:${x}px;top:${y}px;width:${w}px;height:${h}px`;
  page.appendChild(el);
});
</script>
</body>
</html>
